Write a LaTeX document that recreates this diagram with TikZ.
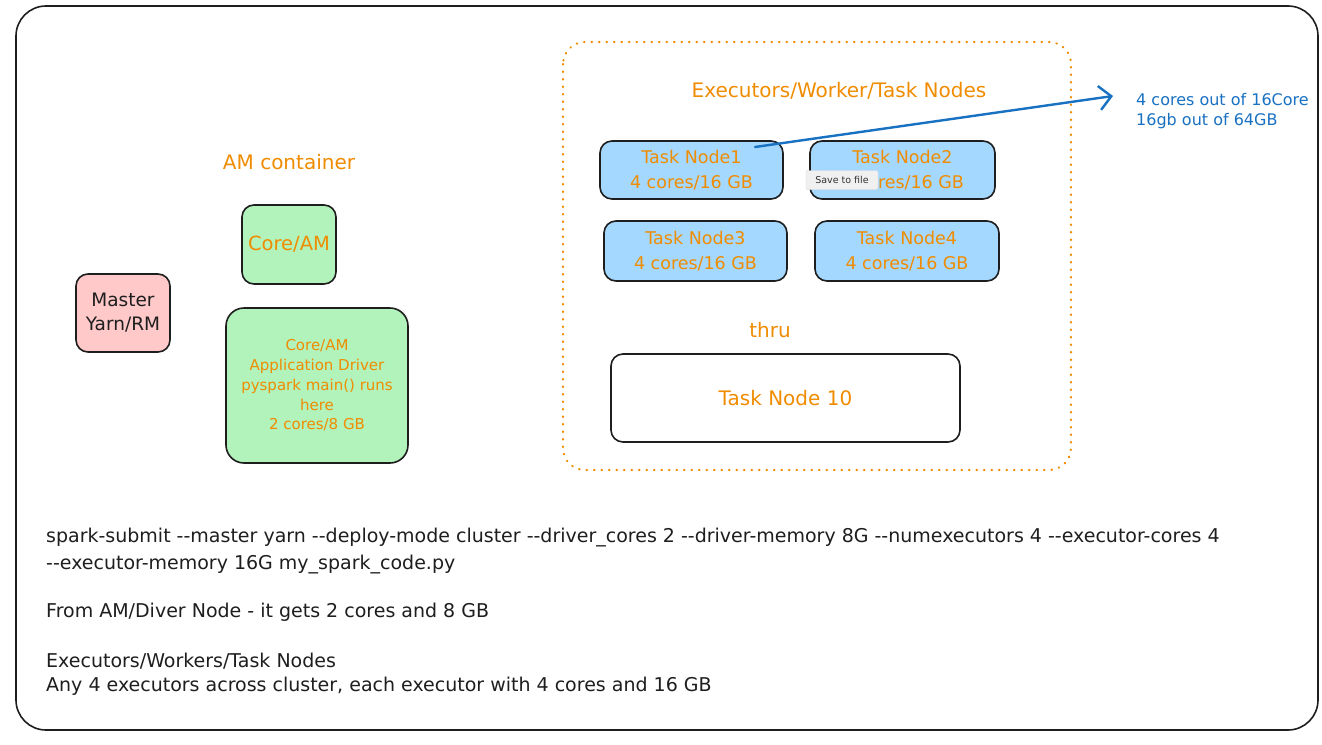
\documentclass[tikz,border=0pt]{standalone}
\usepackage{fontspec}
\setmainfont{DejaVu Sans}[Ligatures=TeXOff]
\usetikzlibrary{arrows.meta}
\definecolor{exorange}{HTML}{F08C00}
\definecolor{exblue}{HTML}{1971C2}
\definecolor{exlblue}{HTML}{A5D8FF}
\definecolor{exgreen}{HTML}{B2F2BB}
\definecolor{expink}{HTML}{FFC9C9}
\definecolor{exstroke}{HTML}{1E1E1E}
\tikzset{
  box/.style={draw=exstroke, line width=1.6pt, rounded corners=12pt, align=center, inner sep=2pt},
  tn/.style={box, fill=exlblue, minimum width=183pt, minimum height=58pt, text=exorange, font=\fontsize{17.5}{25}\selectfont},
  olabel/.style={text=exorange, font=\fontsize{20}{24}\selectfont},
  btext/.style={anchor=west, text=exstroke, font=\fontsize{19}{23}\selectfont, inner sep=0pt},
}
\begin{document}
\begin{tikzpicture}[x=1pt,y=-1pt]
\useasboundingbox (0,0) rectangle (1322,744);
\fill[white] (0,0) rectangle (1322,744);
% outer frame
\draw[exstroke, line width=1.6pt, rounded corners=30pt] (16,6) rectangle (1318,730);
% dotted executors frame
\draw[exorange, line width=2.2pt, line cap=round, dash pattern=on 0.5pt off 7pt, rounded corners=22pt] (563,42) rectangle (1071,470);
\node[olabel] (exlab) at (839,91) {Executors/Worker/Task Nodes};
% task nodes
\node[tn] (t1) at (691.5,170) {Task Node1\\4 cores/16 GB};
\node[tn, minimum width=185pt] (t2) at (902.5,170) {Task Node2\\4 cores/16 GB};
\node[tn, minimum height=60pt] (t3) at (695.5,251) {Task Node3\\4 cores/16 GB};
\node[tn, minimum width=184pt, minimum height=60pt] (t4) at (907,251) {Task Node4\\4 cores/16 GB};
\node[olabel] (thru) at (770,330) {thru};
\node[box, fill=white, minimum width=349pt, minimum height=88pt, text=exorange, font=\fontsize{20}{24}\selectfont] (t10) at (785.5,398) {Task Node 10};
% tooltip
\node[draw=black!15, fill=black!6, rounded corners=1.5pt, minimum width=72pt, minimum height=19pt, inner sep=1pt, text=black!80, font=\fontsize{9.5}{11}\selectfont] (tip) at (842,180) {Save to file};
% blue note and arrow
\node[anchor=west, align=left, text=exblue, font=\fontsize{16}{19.5}\selectfont, inner sep=0pt] (note) at (1136,111) {4 cores out of 16Core\\16gb out of 64GB};
\coordinate (astart) at (755,147);
\coordinate (aend) at (1113,96);
\draw[exblue, line width=2.4pt, line cap=round, -{Straight Barb[length=12pt, width=24pt, line width=2.4pt]}] (astart) -- (aend);
% AM container
\node[olabel] (amlab) at (289,162) {AM container};
\node[box, fill=exgreen, minimum width=94pt, minimum height=79pt, text=exorange, font=\fontsize{19.5}{22}\selectfont] (coream) at (289,244.5) {Core/AM};
\node[box, fill=exgreen, rounded corners=18pt, minimum width=182pt, minimum height=155pt, text=exorange, font=\fontsize{15}{19.8}\selectfont] (driver) at (317,385.5) {Core/AM\\Application Driver\\pyspark main() runs\\here\\2 cores/8 GB};
\node[box, fill=expink, minimum width=94pt, minimum height=78pt, text=exstroke, font=\fontsize{18.5}{24}\selectfont] (master) at (123,313) {Master\\Yarn/RM};
% bottom text
\node[btext] (l1) at (46,538) {spark-submit --master yarn --deploy-mode cluster --driver\_cores 2 --driver-memory 8G --numexecutors 4 --executor-cores 4};
\node[btext] (l2) at (46,565) {--executor-memory 16G my\_spark\_code.py};
\node[btext] (l3) at (46,612) {From AM/Diver Node - it gets 2 cores and 8 GB};
\node[btext] (l4) at (46,661) {Executors/Workers/Task Nodes};
\node[btext] (l5) at (46,686) {Any 4 executors across cluster, each executor with 4 cores and 16 GB};
\end{tikzpicture}
\end{document}
